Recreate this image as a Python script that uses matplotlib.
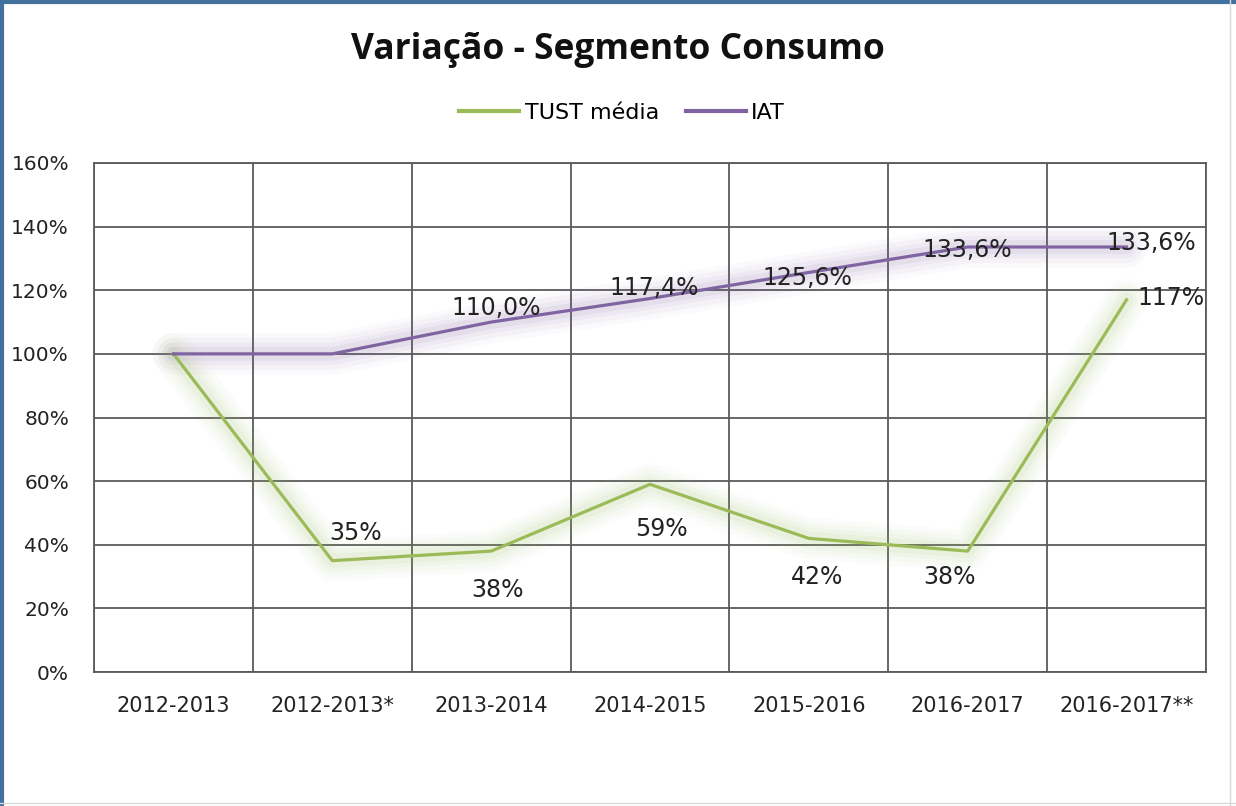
import matplotlib
matplotlib.use("Agg")
import matplotlib.pyplot as plt
from matplotlib.lines import Line2D
import numpy as np

categories = ["2012-2013", "2012-2013*", "2013-2014", "2014-2015", "2015-2016", "2016-2017", "2016-2017**"]
tust = [100, 35, 38, 59, 42, 38, 117]
iat = [100, 100, 110.0, 117.4, 125.6, 133.6, 133.6]
tust_labels = ["", "35%", "38%", "59%", "42%", "38%", "117%"]
iat_labels = ["", "", "110,0%", "117,4%", "125,6%", "133,6%", "133,6%"]
yticks = [0, 20, 40, 60, 80, 100, 120, 140, 160]

green = "#9BBB59"
purple = "#8064A2"
grid = "#5a5a5a"

fig = plt.figure(figsize=(12.36, 8.06), dpi=100)
ax = fig.add_axes([94/1236, 1-672/806, (1206-94)/1236, (672-163)/806])

x = np.arange(len(categories))
ax.set_xlim(-0.5, len(categories)-0.5)
ax.set_ylim(0, 160)

# grid
for yv in yticks:
    ax.axhline(yv, color=grid, lw=1.3, zorder=1)
for b in np.arange(-0.5, len(categories), 1):
    ax.axvline(b, color=grid, lw=1.3, zorder=1)
for s in ax.spines.values():
    s.set_color(grid)
    s.set_linewidth(1.3)

# glow
for w, a in [(30, 0.035), (23, 0.045), (16, 0.06), (10, 0.08)]:
    ax.plot(x, tust, color=green, lw=w, alpha=a, solid_capstyle="round", solid_joinstyle="round", zorder=2)
    ax.plot(x, iat, color=purple, lw=w, alpha=a, solid_capstyle="round", solid_joinstyle="round", zorder=2)

ax.plot(x, tust, color=green, lw=2.3, zorder=4, label="TUST média")
ax.plot(x, iat, color=purple, lw=2.3, zorder=4, label="IAT")

lab_font = dict(fontsize=17, color="#222222", family="DejaVu Sans", zorder=5)
# label offsets (pixels)
tust_off = [(0, 0), (23, 28), (6, -39), (11, -45), (8, -39), (-18, -26), (44, 2)]
for i, (t, off) in enumerate(zip(tust_labels, tust_off)):
    if t:
        ax.annotate(t, (x[i], tust[i]), xytext=off, textcoords="offset pixels",
                    ha="center", va="center", **lab_font)
iat_off = [(0, 0), (0, 0), (5, 14), (4, 11), (-1, -6), (0, -3), (25, 4)]
for i, (t, off) in enumerate(zip(iat_labels, iat_off)):
    if t:
        ax.annotate(t, (x[i], iat[i]), xytext=off, textcoords="offset pixels",
                    ha="center", va="center", **lab_font)

ax.set_xticks(x)
ax.set_xticklabels(categories, fontsize=15, family="DejaVu Sans", color="#222222")
ax.set_yticks(yticks)
ax.set_yticklabels([f"{v}%" for v in yticks], fontsize=14.5, family="DejaVu Sans", color="#222222")
ax.tick_params(length=0, axis="x", pad=17)
ax.tick_params(length=0, axis="y", pad=18)

fig.text(618/1236, 1-50/806, "Variação - Segmento Consumo", ha="center", va="center",
         fontsize=25.5, fontweight="bold", family="Open Sans", color="#111111")

handles = [Line2D([0], [0], color=green, lw=3), Line2D([0], [0], color=purple, lw=3)]
fig.legend(handles, ["TUST média", "IAT"], loc="center", bbox_to_anchor=(622/1236, 1-113/806),
           ncol=2, frameon=False, fontsize=16, handlelength=2.7, handletextpad=0.25, columnspacing=1.2)

# border
fig.add_artist(Line2D([0.0015, 0.0015], [0, 1], transform=fig.transFigure, color="#41719C", lw=3))
fig.add_artist(Line2D([0, 1], [0.9975, 0.9975], transform=fig.transFigure, color="#41719C", lw=3))
fig.add_artist(Line2D([1230/1236, 1230/1236], [0, 1], transform=fig.transFigure, color="#d9d9d9", lw=1))
fig.add_artist(Line2D([0, 1], [3/806, 3/806], transform=fig.transFigure, color="#d9d9d9", lw=1))

fig.savefig("out.png", dpi=100)
